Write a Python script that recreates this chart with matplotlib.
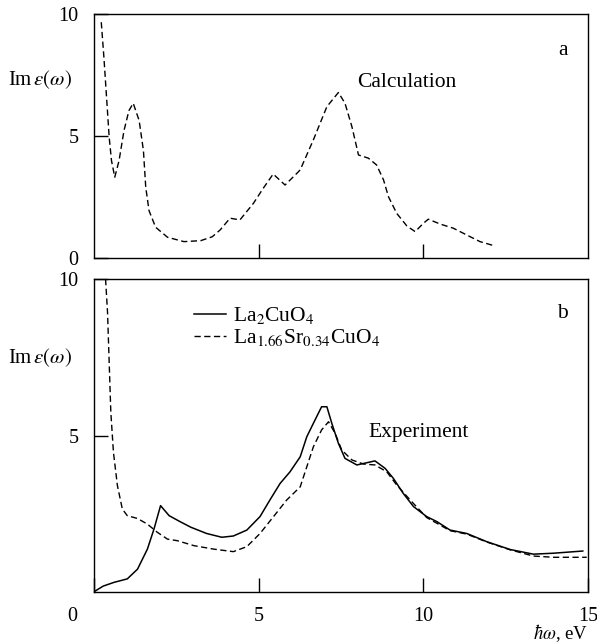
"""Im eps(omega) for La2CuO4: calculation (a) and experiment (b)."""

import matplotlib
matplotlib.use("Agg")
import matplotlib.pyplot as plt
from matplotlib.transforms import ScaledTranslation

plt.rcParams["font.family"] = ["Liberation Serif", "DejaVu Serif"]
plt.rcParams["mathtext.fontset"] = "stix"

# panel a: calculation
calc_x = [0.22, 0.30, 0.38, 0.46, 0.53, 0.63, 0.76, 0.91, 1.06, 1.19, 1.37, 1.50,
          1.57, 1.67, 1.87, 2.23, 2.73, 3.24, 3.59, 3.83, 4.13, 4.43, 4.84, 5.14,
          5.44, 5.80, 6.16, 6.26, 6.66, 7.07, 7.42, 7.62, 7.83, 8.03, 8.33, 8.58,
          8.79, 8.94, 9.19, 9.50, 9.75, 10.00, 10.15, 10.51, 10.91, 11.32, 11.72,
          12.18]
calc_y = [9.66, 8.22, 6.59, 4.95, 3.99, 3.31, 3.99, 5.22, 6.04, 6.34, 5.63, 4.40,
          2.90, 1.94, 1.26, 0.85, 0.67, 0.71, 0.87, 1.15, 1.63, 1.56, 2.24, 2.86,
          3.44, 2.99, 3.47, 3.61, 4.84, 6.20, 6.78, 6.34, 5.38, 4.22, 4.09, 3.81,
          3.20, 2.51, 1.83, 1.31, 1.08, 1.42, 1.59, 1.39, 1.22, 0.94, 0.67,
          0.49]

# panel b: experiment, La2CuO4
pure_x = [0.0, 0.28, 0.61, 1.01, 1.32, 1.62, 1.82, 2.02, 2.28, 2.61, 2.94, 3.42,
          3.88, 4.23, 4.64, 5.04, 5.34, 5.65, 5.95, 6.26, 6.46, 6.66, 6.91, 7.07,
          7.22, 7.42, 7.62, 7.98, 8.28, 8.53, 8.84, 9.09, 9.39, 9.70, 10.10, 10.41,
          10.81, 11.32, 11.92, 12.63, 13.34, 13.95, 14.84]
pure_y = [0.01, 0.19, 0.31, 0.42, 0.73, 1.37, 2.01, 2.76, 2.44, 2.25, 2.07, 1.87,
          1.75, 1.79, 1.98, 2.41, 2.94, 3.47, 3.84, 4.32, 4.96, 5.39, 5.92, 5.92,
          5.39, 4.75, 4.27, 4.06, 4.13, 4.19, 3.95, 3.63, 3.15, 2.73, 2.41, 2.25,
          1.98, 1.87, 1.61, 1.36, 1.21, 1.24, 1.31]

# panel b: experiment, La1.66Sr0.34CuO4
doped_x = [0.35, 0.41, 0.46, 0.51, 0.59, 0.71, 0.86, 1.01, 1.32, 1.62, 1.92, 2.23,
           2.53, 3.04, 3.64, 4.23, 4.64, 5.04, 5.45, 5.85, 6.26, 6.46, 6.66, 6.91,
           7.12, 7.32, 7.52, 7.83, 8.18, 8.53, 8.89, 9.19, 9.60, 10.10, 10.81,
           11.32, 11.92, 12.63, 13.34, 13.95, 14.96]
doped_y = [10.0, 8.94, 7.34, 5.74, 4.46, 3.40, 2.65, 2.44, 2.35, 2.17, 1.91, 1.69,
           1.64, 1.48, 1.37, 1.29, 1.45, 1.87, 2.41, 2.94, 3.36, 4.00, 4.64, 5.18,
           5.44, 5.07, 4.54, 4.22, 4.09, 4.06, 3.84, 3.42, 2.94, 2.38, 1.96,
           1.85, 1.60, 1.35, 1.15, 1.11, 1.11]

TICK_FS = 14.5
FS = 15.5
DASH = (4.5, 2.5)

fig = plt.figure(figsize=(5.97, 6.44), dpi=100)
ax_a = fig.add_axes([0.1575, 0.5994, 0.8275, 0.379])
ax_b = fig.add_axes([0.1575, 0.0807, 0.8275, 0.486])

ax_a.plot(calc_x, calc_y, color="black", lw=1.0, dashes=DASH)
ax_b.plot(pure_x, pure_y, color="black", lw=1.1, label="La$_2$CuO$_4$")
ax_b.plot(doped_x, doped_y, color="black", lw=1.0, dashes=DASH,
          label="La$_{1.66}$Sr$_{0.34}$CuO$_4$")

for ax in (ax_a, ax_b):
    ax.set_xlim(0, 15)
    ax.set_ylim(0, 10)
    ax.tick_params(direction="in", length=10, width=1.0, labelsize=TICK_FS)
    ax.tick_params(axis="y", pad=11)
    for spine in ax.spines.values():
        spine.set_linewidth(1.0)
    ax.set_ylabel(r"Im$\,\varepsilon(\omega)$", rotation=0, fontsize=15,
                  ha="center", va="center")

ax_a.set_xticks([5, 10])
ax_a.set_xticklabels([])
ax_a.set_yticks([0, 5, 10])
ax_a.yaxis.set_label_coords(-0.109, 0.73)

ax_b.set_yticks([5, 10])
ax_b.set_xticks([0, 5, 10, 15])
ax_b.tick_params(axis="x", pad=10.5)
ax_b.yaxis.set_label_coords(-0.109, 0.748)
zero = ax_b.get_xticklabels()[0]
zero.set_transform(zero.get_transform() + ScaledTranslation(-0.22, 0, fig.dpi_scale_trans))

ax_a.text(0.949, 0.852, "a", transform=ax_a.transAxes, fontsize=FS, ha="center", va="center")
ax_a.text(0.532, 0.721, "Calculation", transform=ax_a.transAxes, fontsize=FS, va="center")
ax_b.text(0.949, 0.891, "b", transform=ax_b.transAxes, fontsize=FS, ha="center", va="center")
ax_b.text(0.555, 0.511, "Experiment", transform=ax_b.transAxes, fontsize=FS, va="center")
ax_b.text(0.889, -0.131, r"$\hbar\omega$, eV", transform=ax_b.transAxes, fontsize=13.5,
          va="center")

ax_b.legend(loc="upper left", bbox_to_anchor=(0.172, 0.965), frameon=False,
            fontsize=FS, handlelength=1.5, handletextpad=0.3, labelspacing=0.05,
            borderpad=0.2)

fig.savefig("out.png", dpi=100)
